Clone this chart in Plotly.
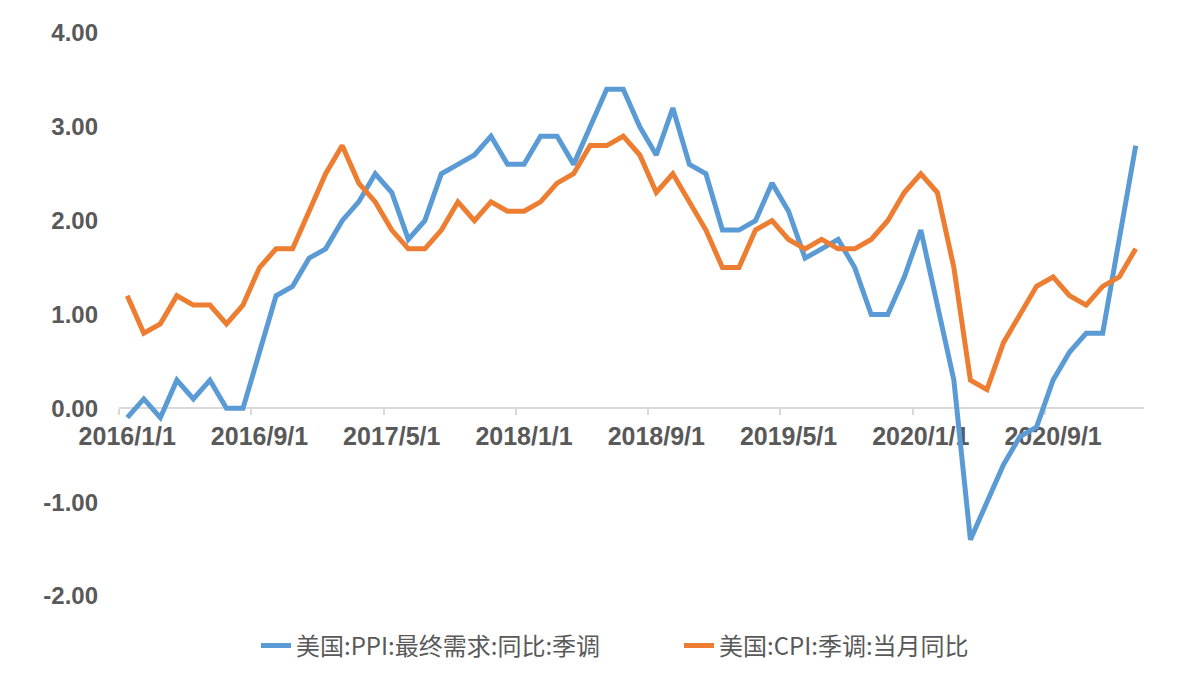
import plotly.graph_objects as go

# monthly categories 2016/1/1 ... 2021/2/1
months = [f"{y}/{m}/1" for y in range(2016, 2022) for m in range(1, 13)][:62]

ppi = [-0.1, 0.1, -0.1, 0.3, 0.1, 0.3, 0.0, 0.0, 0.6, 1.2, 1.3, 1.6,
       1.7, 2.0, 2.2, 2.5, 2.3, 1.8, 2.0, 2.5, 2.6, 2.7, 2.9, 2.6,
       2.6, 2.9, 2.9, 2.6, 3.0, 3.4, 3.4, 3.0, 2.7, 3.2, 2.6, 2.5,
       1.9, 1.9, 2.0, 2.4, 2.1, 1.6, 1.7, 1.8, 1.5, 1.0, 1.0, 1.4,
       1.9, 1.1, 0.3, -1.4, -1.0, -0.6, -0.3, -0.2, 0.3, 0.6, 0.8, 0.8,
       1.8, 2.8]

cpi = [1.2, 0.8, 0.9, 1.2, 1.1, 1.1, 0.9, 1.1, 1.5, 1.7, 1.7, 2.1,
       2.5, 2.8, 2.4, 2.2, 1.9, 1.7, 1.7, 1.9, 2.2, 2.0, 2.2, 2.1,
       2.1, 2.2, 2.4, 2.5, 2.8, 2.8, 2.9, 2.7, 2.3, 2.5, 2.2, 1.9,
       1.5, 1.5, 1.9, 2.0, 1.8, 1.7, 1.8, 1.7, 1.7, 1.8, 2.0, 2.3,
       2.5, 2.3, 1.5, 0.3, 0.2, 0.7, 1.0, 1.3, 1.4, 1.2, 1.1, 1.3,
       1.4, 1.7]

names = ["美国:PPI:最终需求:同比:季调", "美国:CPI:季调:当月同比"]
colors = ["#5B9BD5", "#ED7D31"]

y_ticks = [4, 3, 2, 1, 0, -1, -2]
y_ticktext = [f"{v:.2f}" for v in y_ticks]
x_tickvals = list(range(0, len(months), 8))
x_ticktext = [months[i] for i in x_tickvals]

idx = list(range(len(months)))

fig = go.Figure()
for vals, nm, col in zip([ppi, cpi], names, colors):
    fig.add_trace(go.Scatter(
        x=idx, y=vals, mode="lines", name=nm,
        line=dict(color=col, width=5),
        customdata=months,
        hovertemplate="%{customdata}: %{y:.2f}<extra>" + nm + "</extra>",
    ))

tick_font = dict(family="Liberation Sans, Arial, sans-serif", size=24, color="#595959", weight="bold")
xtick_font = dict(tick_font, size=25)

fig.update_layout(
    width=1179, height=683,
    margin=dict(l=111, r=43, t=25, b=95, autoexpand=False),
    paper_bgcolor="white", plot_bgcolor="white",
    showlegend=True,
    legend=dict(
        orientation="h", xref="container", yref="container",
        x=248 / 1179, xanchor="left", y=(683 - 638) / 683, yanchor="middle",
        font=dict(family="Noto Sans CJK SC, sans-serif", size=24, color="#595959"),
        entrywidth=378, entrywidthmode="pixels",
        bgcolor="rgba(0,0,0,0)",
    ),
    xaxis=dict(
        range=[-0.5, len(months) - 0.5],
        anchor="free", position=1 / 3,
        tickmode="array", tickvals=x_tickvals, ticktext=x_ticktext,
        ticks="outside", ticklen=6, tickcolor="rgba(0,0,0,0)",
        minor=dict(tick0=-0.5, dtick=8, ticks="outside", ticklen=6,
                   tickcolor="#d9d9d9", tickwidth=1.5, showgrid=False),
        showline=True, linecolor="#d9d9d9", linewidth=1.5,
        showgrid=False, zeroline=False,
        tickfont=xtick_font, layer="below traces",
    ),
    yaxis=dict(
        range=[-2, 4],
        tickmode="array", tickvals=y_ticks, ticktext=y_ticktext,
        ticks="", showline=False, showgrid=False, zeroline=False,
        tickfont=tick_font, ticklabelstandoff=20,
    ),
)

fig.write_html("out.html")
